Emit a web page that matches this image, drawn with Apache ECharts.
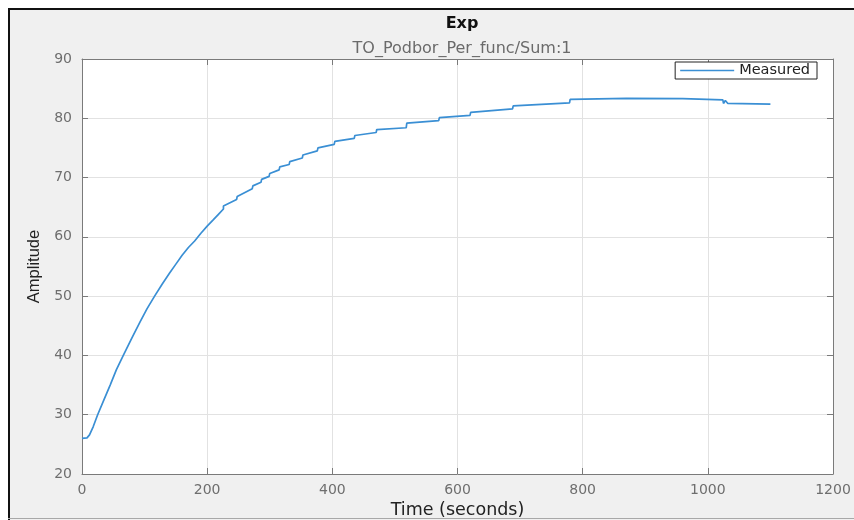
<!DOCTYPE html>
<html>
<head>
<meta charset="utf-8">
<script src="https://cdn.jsdelivr.net/npm/echarts@6/dist/echarts.min.js"></script>
<style>
  html, body { margin: 0; padding: 0; background: #fff; }
  #main { width: 854px; height: 520px; }
</style>
</head>
<body>
<div id="main"></div>
<script>
// 数据：时间(秒)和幅值
var timeSec = [0, 8, 12, 18, 25, 35, 45, 55, 66, 80, 93, 104, 116, 128, 140, 150,
    160, 170, 180, 180, 190, 190, 200, 200, 210, 210, 218, 218, 226, 226,
    247, 248, 272, 273, 286, 287, 299, 300, 315, 316, 331, 332, 352, 353,
    376, 377, 403, 404, 435, 436, 470, 471, 518, 519, 570, 571, 620, 621,
    688, 689, 779, 780, 870, 960, 1024, 1025, 1027, 1028, 1031, 1032, 1100];
var amplitude = [26.0, 26.1, 26.6, 28.0, 30.0, 32.5, 35.0, 37.6, 40.0, 43.0, 45.7, 47.9, 50.0, 52.0, 53.9, 55.4,
    56.9, 58.2, 59.3, 59.6, 60.6, 60.9, 61.8, 62.1, 62.9, 63.2, 63.8, 64.1, 64.7, 65.2,
    66.3, 66.8, 68.1, 68.6, 69.2, 69.7, 70.2, 70.7, 71.3, 71.8, 72.2, 72.7, 73.3, 73.8,
    74.5, 75.0, 75.6, 76.1, 76.6, 77.1, 77.6, 78.1, 78.4, 79.2, 79.6, 80.1, 80.5, 81.0,
    81.6, 82.1, 82.6, 83.2, 83.35, 83.3, 83.1, 82.5, 82.5, 83.0, 83.0, 82.5, 82.4];
var xTicks = { min: 0, max: 1200, interval: 200 };
var yTicks = { min: 20, max: 90, interval: 10 };

var seriesData = timeSec.map(function (t, i) { return [t, amplitude[i]]; });

var myChart = echarts.init(document.getElementById('main'));

var axisColor = '#7a7a7a';
var labelFont = 'DejaVu Sans';

option = {
    backgroundColor: '#f0f0f0',
    animation: false,
    title: [
        {
            text: 'Exp',
            left: 457,
            top: 11,
            textAlign: 'center',
            textStyle: { fontFamily: labelFont, fontSize: 16, fontWeight: 'bold', color: '#111' }
        },
        {
            text: 'TO_Podbor_Per_func/Sum:1',
            left: 457,
            top: 36,
            textAlign: 'center',
            textStyle: { fontFamily: labelFont, fontSize: 16, fontWeight: 'normal', color: '#6a6a6a' }
        }
    ],
    legend: {
        data: ['Measured'],
        icon: 'rect',
        right: 37,
        top: 62,
        padding: [1, 7, 1, 5],
        itemWidth: 54,
        itemHeight: 1.5,
        backgroundColor: '#fff',
        borderColor: '#222',
        borderWidth: 1,
        borderRadius: 0,
        textStyle: { fontFamily: labelFont, fontSize: 14.5, color: '#222' }
    },
    grid: {
        left: 82,
        right: 21,
        top: 59,
        bottom: 46,
        show: true,
        backgroundColor: '#fff',
        borderWidth: 0,
        outerBoundsMode: 'none'
    },
    xAxis: [
        {
            type: 'value',
            min: xTicks.min, max: xTicks.max, interval: xTicks.interval,
            name: 'Time (seconds)',
            nameLocation: 'middle',
            nameGap: 23,
            nameTextStyle: { fontFamily: labelFont, fontSize: 17.5, color: '#222' },
            axisLine: { show: true, lineStyle: { color: axisColor, width: 1 } },
            axisTick: { show: true, inside: true, length: 6, lineStyle: { color: axisColor } },
            axisLabel: {
                margin: 9, fontFamily: labelFont, fontSize: 14, color: '#6e6e6e',
                formatter: function (v) { return String(v); }
            },
            splitLine: { show: true, lineStyle: { color: '#e2e2e2', width: 1 } }
        },
        {
            type: 'value', position: 'top',
            min: xTicks.min, max: xTicks.max, interval: xTicks.interval,
            axisLine: { show: true, onZero: false, lineStyle: { color: axisColor, width: 1 } },
            axisTick: { show: true, inside: true, length: 6, lineStyle: { color: axisColor } },
            axisLabel: { show: false },
            splitLine: { show: false }
        }
    ],
    yAxis: [
        {
            type: 'value',
            min: yTicks.min, max: yTicks.max, interval: yTicks.interval,
            name: 'Amplitude',
            nameLocation: 'middle',
            nameGap: 36,
            nameTextStyle: { fontFamily: 'Liberation Sans', fontSize: 16.5, color: '#222' },
            axisLine: { show: true, lineStyle: { color: axisColor, width: 1 } },
            axisTick: { show: true, inside: true, length: 6, lineStyle: { color: axisColor } },
            axisLabel: { margin: 10, fontFamily: labelFont, fontSize: 14, color: '#6e6e6e' },
            splitLine: { show: true, lineStyle: { color: '#e2e2e2', width: 1 } }
        },
        {
            type: 'value', position: 'right',
            min: yTicks.min, max: yTicks.max, interval: yTicks.interval,
            axisLine: { show: true, onZero: false, lineStyle: { color: axisColor, width: 1 } },
            axisTick: { show: true, inside: true, length: 6, lineStyle: { color: axisColor } },
            axisLabel: { show: false },
            splitLine: { show: false }
        }
    ],
    series: [
        {
            name: 'Measured',
            type: 'line',
            xAxisIndex: 0,
            yAxisIndex: 0,
            data: seriesData,
            symbol: 'none',
            showSymbol: false,
            lineStyle: { color: '#3a8fd4', width: 1.7 },
            itemStyle: { color: '#3a8fd4' }
        }
    ],
    // 窗口边框
    graphic: [
        { type: 'rect', shape: { x: 0, y: 0, width: 854, height: 8 }, style: { fill: '#fff' }, silent: true },
        { type: 'rect', shape: { x: 0, y: 0, width: 8, height: 520 }, style: { fill: '#fff' }, silent: true },
        { type: 'rect', shape: { x: 8, y: 8, width: 846, height: 2 }, style: { fill: '#111' }, silent: true },
        { type: 'rect', shape: { x: 8, y: 8, width: 2, height: 512 }, style: { fill: '#111' }, silent: true },
        { type: 'rect', shape: { x: 8, y: 518, width: 846, height: 1 }, style: { fill: '#a8a8a8' }, silent: true }
    ]
};

myChart.setOption(option);
</script>
</body>
</html>
